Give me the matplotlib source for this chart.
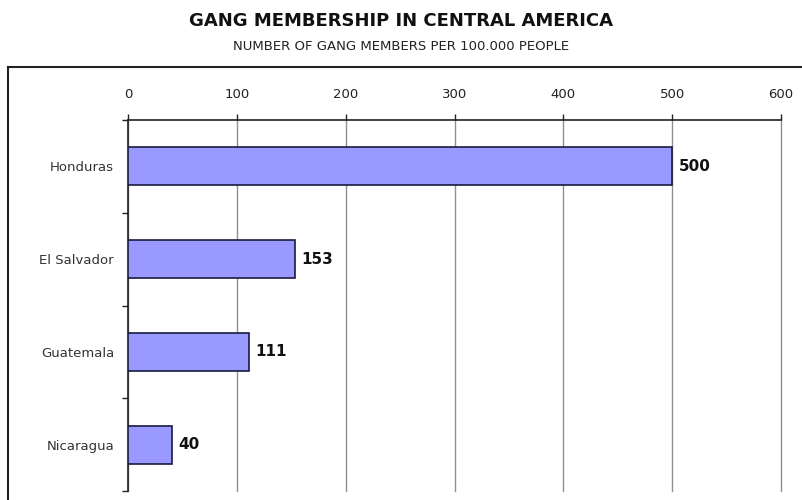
import matplotlib
matplotlib.use("Agg")
import matplotlib.pyplot as plt
from matplotlib.lines import Line2D

countries = ["Honduras", "El Salvador", "Guatemala", "Nicaragua"]
members = [500, 153, 111, 40]
xticks = [0, 100, 200, 300, 400, 500, 600]

plt.rcParams['font.family'] = ['DejaVu Sans']

fig = plt.figure(figsize=(8.02, 5.0), dpi=100)
ax = fig.add_axes([128/802, 1 - 491/500, (781-128)/802, (491-120)/500])

ypos = list(range(len(countries)))
ax.barh(ypos, members, height=0.41, color="#9999ff", edgecolor="#1a1a40", linewidth=1.2, zorder=3)
for y, v in zip(ypos, members):
    ax.text(v + 6, y, str(v), va="center", ha="left", fontsize=11, fontweight="bold", color="#111111")

ax.set_xlim(0, 600)
ax.set_ylim(3.5, -0.5)
ax.xaxis.tick_top()
ax.set_xticks(xticks)
ax.set_xticklabels([str(t) for t in xticks], fontsize=9.5, color="#222222")
ax.tick_params(axis="x", direction="out", length=4.5, width=1, color="#222222", pad=9)
ax.set_yticks(ypos)
ax.set_yticklabels(countries, fontsize=9.5, color="#333333")
ax.tick_params(axis="y", which="major", length=0, pad=10)
ax.set_yticks([-0.5, 0.5, 1.5, 2.5, 3.5], minor=True)
ax.tick_params(axis="y", which="minor", direction="out", length=4.5, width=1, color="#222222")

ax.grid(axis="x", color="#909090", linewidth=1, zorder=0)
for gl in ax.get_xgridlines():
    gl.set_clip_on(False)
for s in ["right", "bottom"]:
    ax.spines[s].set_visible(False)
for s in ["top", "left"]:
    ax.spines[s].set_color("#222222")
    ax.spines[s].set_linewidth(1.2)

fig.text(0.5, 1 - 21/500, "GANG MEMBERSHIP IN CENTRAL AMERICA", ha="center", va="center",
         fontsize=13, fontweight="bold", color="#111111")
fig.text(0.5, 1 - 46/500, "NUMBER OF GANG MEMBERS PER 100.000 PEOPLE", ha="center", va="center",
         fontsize=9.5, color="#222222")

fx = 8/802
fy = 1 - 67/500
fig.add_artist(Line2D([fx, fx], [0, fy], transform=fig.transFigure, color="#222222", linewidth=1.5))
fig.add_artist(Line2D([fx, 1.0], [fy, fy], transform=fig.transFigure, color="#222222", linewidth=1.5))

fig.savefig("out.png", dpi=100)
